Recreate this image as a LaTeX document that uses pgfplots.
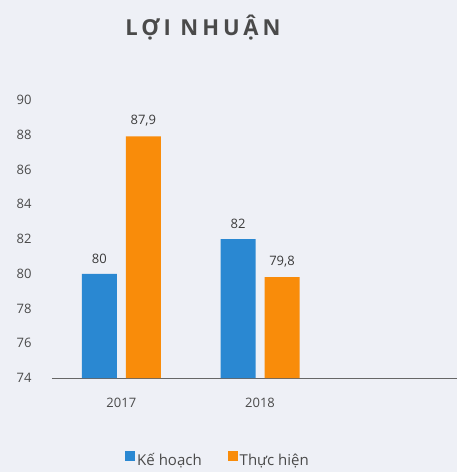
\documentclass[border=0pt]{standalone}
\usepackage{fontspec}
\usepackage{pgfplots}
\pgfplotsset{compat=1.18}
\setmainfont{Open Sans}
\newfontfamily\titlefont[LetterSpace=18]{Open Sans}

\definecolor{bgcol}{HTML}{EEF0F6}
\definecolor{kh}{HTML}{2A88D2}
\definecolor{th}{HTML}{F98C0A}
\definecolor{txt}{HTML}{4A4A4A}

\begin{document}
\begin{tikzpicture}
  \fill[bgcol] (0,0) rectangle (457pt,472pt);
  \useasboundingbox (0,0) rectangle (457pt,472pt);
  \node[text=txt] at (203pt,444pt) {\titlefont\bfseries\fontsize{22}{26}\selectfont LỢI NHUẬN};
  \begin{axis}[
      at={(52pt,94pt)}, anchor=south west,
      scale only axis,
      width=405pt, height=278pt,
      ybar=9pt, bar width=35pt,
      xmin=-0.5, xmax=2.42,
      ymin=74, ymax=90,
      ytick={74,76,...,90},
      xtick={0,1}, xticklabels={2017,2018},
      axis x line*=bottom, axis y line*=left,
      y axis line style={draw=none},
      x axis line style={draw=gray!80!black, line width=0.8pt},
      tick style={draw=none},
      ticklabel style={font=\fontsize{13}{15}\selectfont, text=txt},
      /pgf/number format/assume math mode=true,
      yticklabel style={xshift=-17pt},
      xticklabel style={yshift=-12pt},
      nodes near coords,
      nodes near coords style={font=\fontsize{13}{15}\selectfont, text=txt!80!black, yshift=7pt,
        /pgf/number format/use comma, /pgf/number format/assume math mode=true},
      legend columns=2,
      legend style={at={(0.41,-0.295)}, anchor=center, draw=none, fill=none,
        font=\fontsize{15}{17}\selectfont, text=txt,
        /tikz/every even column/.append style={column sep=24pt}},
      legend image code/.code={\fill[#1] (0pt,-1pt) rectangle (10pt,9pt);},
    ]
    \addplot[fill=kh, draw=none] coordinates {(0,80) (1,82)};
    \addplot[fill=th, draw=none] coordinates {(0,87.9) (1,79.8)};
    \legend{Kế hoạch, Thực hiện}
  \end{axis}
\end{tikzpicture}
\end{document}
